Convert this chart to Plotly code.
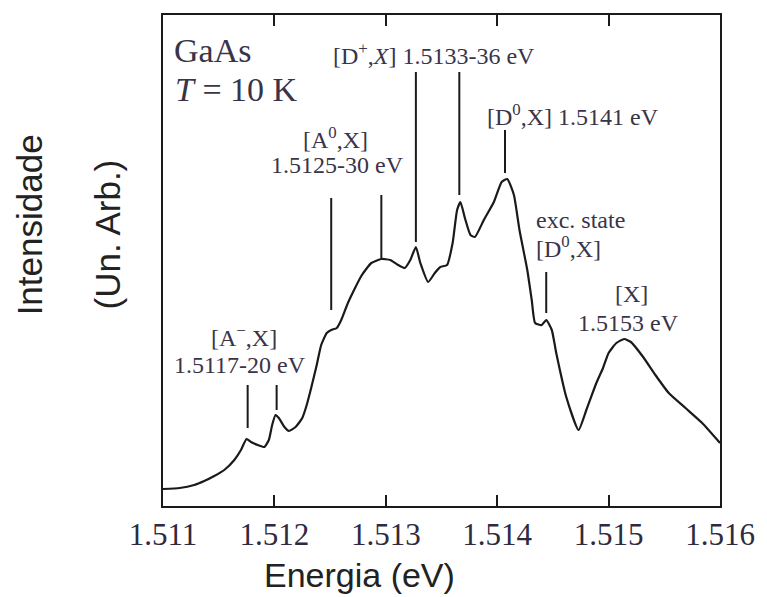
import plotly.graph_objects as go

# Photoluminescence spectrum of GaAs at 10 K
energy_ev = [1.51100, 1.51115, 1.51128, 1.51137, 1.51146, 1.51155, 1.51164, 1.51170,
             1.51175, 1.51179, 1.51185, 1.51191, 1.51195, 1.51198, 1.51201, 1.51204,
             1.51209, 1.51213, 1.51219, 1.51225, 1.51229, 1.51233, 1.51238, 1.51242,
             1.51247, 1.51251, 1.51256, 1.51260, 1.51266, 1.51278, 1.51287, 1.51296,
             1.51304, 1.51311, 1.51317, 1.51322, 1.51327, 1.51331, 1.51338, 1.51344,
             1.51349, 1.51355, 1.51360, 1.51364, 1.51367, 1.51371, 1.51376, 1.51380,
             1.51388, 1.51397, 1.51404, 1.51409, 1.51415, 1.51420, 1.51427, 1.51431,
             1.51434, 1.51440, 1.51444, 1.51449, 1.51453, 1.51462, 1.51473, 1.51480,
             1.51489, 1.51495, 1.51500, 1.51507, 1.51514, 1.51520, 1.51531, 1.51542,
             1.51554, 1.51569, 1.51584, 1.51600]
intensity = [17, 18, 21, 25, 30, 36, 46, 56,
             67, 64, 61, 59, 66, 81, 91, 88,
             79, 75, 79, 88, 101, 118, 141, 161,
             173, 176, 178, 186, 203, 230, 243, 247,
             246, 241, 238, 246, 259, 243, 224, 233,
             239, 241, 263, 296, 304, 288, 271, 269,
             286, 304, 324, 327, 311, 276, 236, 206,
             183, 181, 186, 176, 153, 109, 76, 96,
             123, 138, 153, 163, 167, 164, 149, 131,
             113, 98, 83, 63]

# Marker lines for the labelled transitions
marker_ev = [1.51176, 1.51202, 1.51251, 1.51296, 1.51327, 1.51366, 1.51407, 1.51444]
marker_top = [121, 121, 308, 311, 434, 434, 376, 234]
marker_bottom = [78, 96, 196, 248, 264, 311, 333, 193]

tick_vals = [1.511, 1.512, 1.513, 1.514, 1.515, 1.516]
tick_text = ["1.511", "1.512", "1.513", "1.514", "1.515", "1.516"]

SERIF = "Liberation Serif, Times New Roman, serif"
SANS = "Liberation Sans, Arial, sans-serif"
TXT = "#3a3448"

fig = go.Figure()
fig.add_trace(go.Scatter(x=energy_ev, y=intensity, mode="lines",
                         line=dict(color="#1a1a1a", width=2.2, shape="spline", smoothing=0.5),
                         showlegend=False, hoverinfo="skip"))

for xe, yt, yb in zip(marker_ev, marker_top, marker_bottom):
    fig.add_shape(type="line", xref="x", yref="y", x0=xe, x1=xe, y0=yb, y1=yt,
                  line=dict(color="#1a1a1a", width=2))

labels = [
    ("GaAs", 1.51108, 456, "left", 34),
    ("<i>T</i> = 10 K", 1.51109, 417, "left", 34),
    ("[D<sup>+</sup>,<i>X</i>] 1.5133-36 eV", 1.51251, 452, "left", 24),
    ("[A<sup>0</sup>,X]", 1.51255, 368, "center", 24),
    ("1.5125-30 eV", 1.51257, 341, "center", 24),
    ("[D<sup>0</sup>,X] 1.5141 eV", 1.51389, 391, "left", 24),
    ("exc. state", 1.51433, 286, "left", 24),
    ("[D<sup>0</sup>,X]", 1.51433, 259, "left", 24),
    ("[X]", 1.51521, 212, "center", 24),
    ("1.5153 eV", 1.51518, 183, "center", 24),
    ("[A<sup>\u2212</sup>,X]", 1.51173, 170, "center", 24),
    ("1.5117-20 eV", 1.51169, 141, "center", 24),
]
for text, xv, yv, anchor, size in labels:
    fig.add_annotation(x=xv, y=yv, xref="x", yref="y", text=text, showarrow=False,
                       xanchor=anchor, yanchor="middle",
                       font=dict(family=SERIF, size=size, color=TXT))

# Axis titles
fig.add_annotation(x=-0.2402, y=0.572, xref="paper", yref="paper", text="Intensidade",
                   textangle=-90, showarrow=False, xanchor="center", yanchor="middle",
                   font=dict(family=SANS, size=35, color="#222222"))
fig.add_annotation(x=-0.0996, y=0.552, xref="paper", yref="paper", text="(Un. Arb.)",
                   textangle=-90, showarrow=False, xanchor="center", yanchor="middle",
                   font=dict(family=SANS, size=35, color="#222222"))
fig.add_annotation(x=0.3523, y=-0.1405, xref="paper", yref="paper", text="Energia (eV)",
                   showarrow=False, xanchor="center", yanchor="middle",
                   font=dict(family=SANS, size=34, color="#222222"))

fig.update_xaxes(range=[1.511, 1.516], tickvals=tick_vals, ticktext=tick_text,
                 ticks="inside", ticklen=11, tickwidth=2, tickcolor="#1a1a1a",
                 showline=True, linewidth=2, linecolor="#1a1a1a", mirror="ticks",
                 showgrid=False, zeroline=False,
                 tickfont=dict(family=SERIF, size=31, color="#2e2a40"))
fig.update_yaxes(range=[0, 491], showticklabels=False, ticks="",
                 showline=True, linewidth=2, linecolor="#1a1a1a", mirror=True,
                 showgrid=False, zeroline=False)

fig.update_layout(width=767, height=597, margin=dict(l=163, r=42, t=15, b=91),
                  plot_bgcolor="white", paper_bgcolor="white", showlegend=False)

fig.write_html("out.html")
